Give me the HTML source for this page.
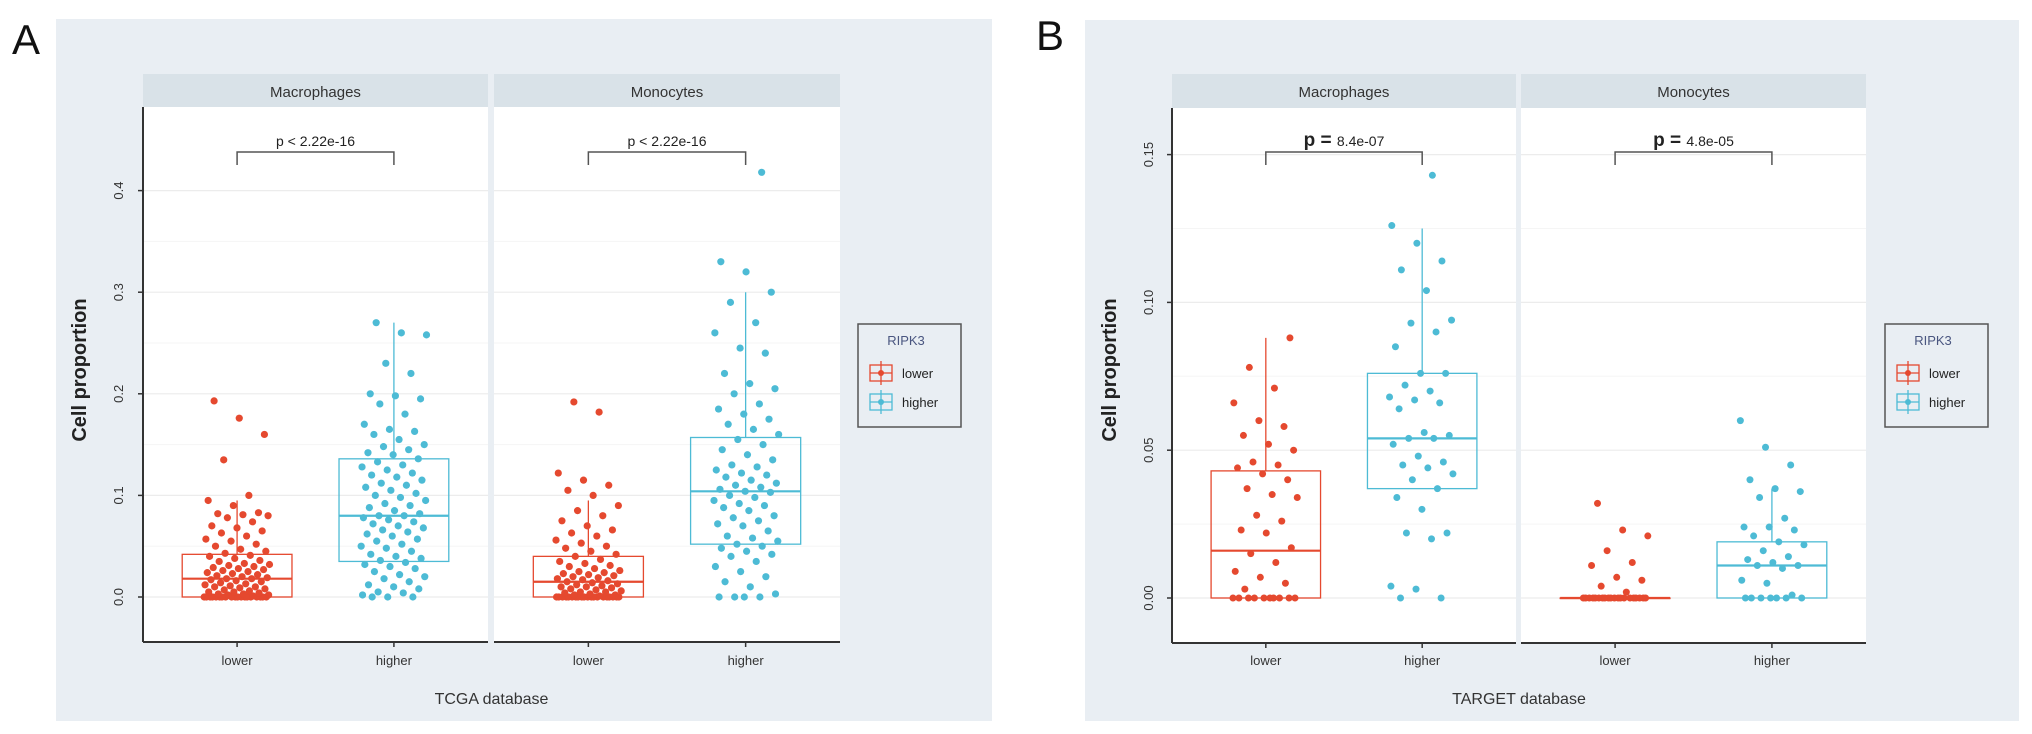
<!DOCTYPE html>
<html><head><meta charset="utf-8"><style>
html,body{margin:0;padding:0;background:#fff;}
svg{display:block;font-family:"Liberation Sans",Arial,sans-serif;}
</style></head><body>
<svg id="fig" width="2032" height="734" viewBox="0 0 2032 734">
<rect x="0" y="0" width="2032" height="734" fill="#fff"/>
<text x="12" y="54" font-size="42" fill="#111">A</text>
<text x="1036" y="50" font-size="42" fill="#111">B</text>
<rect x="56" y="19" width="936" height="702" fill="#e9eef3"/>
<rect x="1085" y="20" width="934" height="701" fill="#e9eef3"/>
<g id="layer"></g>
</svg>
<script>
// ---------- data ----------
const categories = ["lower", "higher"];
const facets = ["Macrophages", "Monocytes"];
const colors = ["#e5492f", "#4dbbd5"];

const ticksA = [0, 0.1, 0.2, 0.3, 0.4];
const tickLabelsA = ["0.0", "0.1", "0.2", "0.3", "0.4"];
const ticksB = [0, 0.05, 0.10, 0.15];
const tickLabelsB = ["0.00", "0.05", "0.10", "0.15"];

const pLabelsA = ["p < 2.22e-16", "p < 2.22e-16"];
const pLabelsB = ["8.4e-07", "4.8e-05"];

// box stats: [whiskerLow, q1, median, q3, whiskerHigh]
const boxA_mac_low = [0, 0, 0.018, 0.042, 0.095];
const boxA_mac_high = [0, 0.035, 0.080, 0.136, 0.270];
const boxA_mon_low = [0, 0, 0.015, 0.040, 0.095];
const boxA_mon_high = [0, 0.052, 0.104, 0.157, 0.300];
const boxB_mac_low = [0, 0, 0.016, 0.043, 0.088];
const boxB_mac_high = [0, 0.037, 0.054, 0.076, 0.125];
const boxB_mon_low = [0, 0, 0, 0, 0];
const boxB_mon_high = [0, 0, 0.011, 0.019, 0.037];

const ptsA_mac_low = [0,0,0,0,0,0,0,0,0,0,0,0,0,0,0,0,0,0,0,0.001,0.002,0.002,0.003,0.003,0.004,0.005,0.005,0.006,0.007,0.008,0.009,0.01,0.01,0.011,0.012,0.013,0.014,0.015,0.016,0.017,0.018,0.018,0.019,0.02,0.021,0.022,0.023,0.024,0.025,0.026,0.027,0.028,0.029,0.03,0.031,0.032,0.033,0.035,0.036,0.038,0.04,0.041,0.043,0.045,0.047,0.05,0.052,0.055,0.057,0.06,0.063,0.065,0.068,0.07,0.074,0.078,0.08,0.081,0.082,0.083,0.09,0.095,0.1,0.135,0.16,0.176,0.193];
const ptsA_mac_high = [0,0,0,0.002,0.004,0.005,0.008,0.01,0.012,0.015,0.018,0.02,0.022,0.025,0.028,0.03,0.032,0.034,0.036,0.038,0.04,0.042,0.045,0.048,0.05,0.052,0.055,0.057,0.06,0.062,0.064,0.066,0.068,0.07,0.072,0.074,0.076,0.078,0.08,0.08,0.082,0.085,0.088,0.09,0.092,0.095,0.098,0.1,0.102,0.105,0.108,0.11,0.112,0.115,0.118,0.12,0.122,0.125,0.128,0.13,0.133,0.136,0.14,0.142,0.145,0.148,0.15,0.155,0.16,0.163,0.165,0.17,0.18,0.19,0.195,0.198,0.2,0.22,0.23,0.258,0.26,0.27];
const ptsA_mon_low = [0,0,0,0,0,0,0,0,0,0,0,0,0,0,0,0,0,0,0,0,0.001,0.002,0.002,0.003,0.004,0.005,0.005,0.006,0.007,0.008,0.009,0.01,0.01,0.011,0.012,0.013,0.014,0.015,0.016,0.017,0.018,0.019,0.02,0.021,0.022,0.023,0.024,0.025,0.026,0.028,0.03,0.031,0.033,0.035,0.037,0.04,0.042,0.045,0.048,0.05,0.053,0.056,0.06,0.063,0.066,0.07,0.075,0.08,0.085,0.09,0.1,0.105,0.11,0.115,0.122,0.182,0.192];
const ptsA_mon_high = [0,0,0,0,0.003,0.01,0.015,0.02,0.025,0.03,0.035,0.04,0.042,0.045,0.048,0.05,0.052,0.055,0.058,0.06,0.065,0.07,0.072,0.075,0.078,0.08,0.085,0.088,0.09,0.092,0.095,0.098,0.1,0.103,0.104,0.106,0.108,0.11,0.112,0.115,0.118,0.12,0.122,0.125,0.128,0.13,0.135,0.14,0.145,0.15,0.155,0.16,0.165,0.17,0.175,0.18,0.185,0.19,0.2,0.205,0.21,0.22,0.24,0.245,0.26,0.27,0.29,0.3,0.32,0.33,0.418];
const ptsB_mac_low = [0,0,0,0,0,0,0,0,0,0,0.003,0.005,0.007,0.009,0.012,0.015,0.017,0.022,0.023,0.026,0.028,0.034,0.035,0.037,0.04,0.042,0.044,0.045,0.046,0.05,0.052,0.055,0.058,0.06,0.066,0.071,0.078,0.088];
const ptsB_mac_high = [0,0,0.003,0.004,0.02,0.022,0.022,0.03,0.034,0.037,0.04,0.042,0.044,0.045,0.046,0.048,0.052,0.054,0.054,0.055,0.056,0.064,0.066,0.067,0.068,0.07,0.072,0.076,0.076,0.085,0.09,0.093,0.094,0.104,0.111,0.114,0.12,0.126,0.143];
const ptsB_mon_low = [0,0,0,0,0,0,0,0,0,0,0,0,0,0,0,0,0,0,0,0,0.002,0.004,0.006,0.007,0.011,0.012,0.016,0.021,0.023,0.032];
const ptsB_mon_high = [0,0,0,0,0,0,0,0.001,0.005,0.006,0.01,0.011,0.011,0.012,0.013,0.014,0.016,0.018,0.019,0.021,0.023,0.024,0.024,0.027,0.034,0.036,0.037,0.04,0.045,0.051,0.06];

// ---------- drawing ----------
const NS = "http://www.w3.org/2000/svg";
const layer = document.getElementById("layer");
function mk(tag, attrs, parent) {
  const e = document.createElementNS(NS, tag);
  for (const k in attrs) e.setAttribute(k, attrs[k]);
  (parent || layer).appendChild(e);
  return e;
}

const charts = [
  { id: "a", y0: 597, perUnit: 1016, top: 107, bottom: 642, panels: [[143, 488], [494, 840]],
    ticks: ticksA, tickLabels: tickLabelsA, tickLabelX: 123, titleX: 86, xTitle: "TCGA database",
    boxes: [[boxA_mac_low, boxA_mac_high], [boxA_mon_low, boxA_mon_high]],
    pts: [[ptsA_mac_low, ptsA_mac_high], [ptsA_mon_low, ptsA_mon_high]],
    p: pLabelsA, bold: false, legendX: 858, r: 3.6 },
  { id: "b", y0: 598, perUnit: 2956, top: 108, bottom: 643, panels: [[1172, 1516], [1521, 1866]],
    ticks: ticksB, tickLabels: tickLabelsB, tickLabelX: 1153, titleX: 1116, xTitle: "TARGET database",
    boxes: [[boxB_mac_low, boxB_mac_high], [boxB_mon_low, boxB_mon_high]],
    pts: [[ptsB_mac_low, ptsB_mac_high], [ptsB_mon_low, ptsB_mon_high]],
    p: pLabelsB, bold: true, legendX: 1885, r: 3.5 }
];

charts.forEach(c => {
  const g = mk("g", {});
  
  
  const y = v => c.y0 - v * c.perUnit;
  c.panels.forEach((pn, fi) => {
    const [L, R] = pn;
    const unit = (R - L) / 2.2;
    const x = ci => L + (ci + 0.6) * unit;
    const st = mk("rect", { x: L, y: 74, width: R - L, height: 34, fill: "#d9e2e8" }, g);
    
    
    const stt = mk("text", { x: (L + R) / 2, y: 97, "text-anchor": "middle", "font-size": 15, fill: "#333" }, g);
    stt.textContent = facets[fi];
    
    
    const pb = mk("rect", { x: L, y: c.top, width: R - L, height: c.bottom - c.top, fill: "#fff" }, g);
    
    
    for (let i = 0; i < c.ticks.length; i++) {
      const gl = mk("line", { x1: L, x2: R, y1: y(c.ticks[i]), y2: y(c.ticks[i]), stroke: "#ececec", "stroke-width": 1.2 }, g);
      
      
      if (i > 0) {
        const mv = (c.ticks[i] + c.ticks[i - 1]) / 2;
        const ml = mk("line", { x1: L, x2: R, y1: y(mv), y2: y(mv), stroke: "#f5f5f5", "stroke-width": 1 }, g);
        
        
      }
    }
    const xa = mk("line", { x1: L, x2: R, y1: c.bottom, y2: c.bottom, stroke: "#333", "stroke-width": 2 }, g);
    
    
    categories.forEach((cat, ci) => {
      const tk = mk("line", { x1: x(ci), x2: x(ci), y1: c.bottom, y2: c.bottom + 5, stroke: "#333", "stroke-width": 1.5 }, g);
      
      
      const tl = mk("text", { x: x(ci), y: 665, "text-anchor": "middle", "font-size": 13, fill: "#333" }, g);
      tl.textContent = cat;
      
      
      const b = c.boxes[fi][ci];
      const col = colors[ci];
      const hw = 0.35 * unit;
      const wl = mk("line", { x1: x(ci), x2: x(ci), y1: y(b[3]), y2: y(b[4]), stroke: col, "stroke-width": 1.3 }, g);
      
      
      const bx = mk("rect", { x: x(ci) - hw, y: y(b[3]), width: 2 * hw, height: Math.max(0.5, y(b[1]) - y(b[3])), fill: "none", stroke: col, "stroke-width": 1.3 }, g);
      
      
      const md = mk("line", { x1: x(ci) - hw, x2: x(ci) + hw, y1: y(b[2]), y2: y(b[2]), stroke: col, "stroke-width": 2.2 }, g);
      
      
      c.pts[fi][ci].forEach((v, i) => {
        const off = (((i * 0.618034 + fi * 0.31 + ci * 0.17) % 1) - 0.5) * 0.42 * unit;
        const pt = mk("circle", { cx: x(ci) + off, cy: y(v), r: c.r, fill: col }, g);
        
        
      });
    });
    const br = mk("path", { d: `M${x(0)},165 V152 H${x(1)} V165`, fill: "none", stroke: "#555", "stroke-width": 1.5 }, g);
    
    
    const pt = mk("text", { x: (x(0) + x(1)) / 2, y: 146, "text-anchor": "middle", "font-size": 14, fill: "#222" }, g);
    if (c.bold) {
      const s1 = mk("tspan", { "font-size": 19, "font-weight": "bold" }, pt); s1.textContent = "p = ";
      const s2 = mk("tspan", {}, pt); s2.textContent = c.p[fi];
    } else pt.textContent = c.p[fi];
    
    
  });
  const L0 = c.panels[0][0];
  const ya = mk("line", { x1: L0, x2: L0, y1: c.top, y2: c.bottom, stroke: "#333", "stroke-width": 2 }, g);
  
  
  c.ticks.forEach((t, i) => {
    const tk = mk("line", { x1: L0 - 5, x2: L0, y1: y(t), y2: y(t), stroke: "#333", "stroke-width": 1.5 }, g);
    
    
    const tl = mk("text", { x: c.tickLabelX, y: y(t), "text-anchor": "middle", "font-size": 13, fill: "#333", transform: `rotate(-90 ${c.tickLabelX} ${y(t)})` }, g);
    tl.textContent = c.tickLabels[i];
    
    
  });
  const yt = mk("text", { x: c.titleX, y: 370, "text-anchor": "middle", "font-size": 20, "font-weight": "bold", fill: "#222", transform: `rotate(-90 ${c.titleX} 370)` }, g);
  yt.textContent = "Cell proportion";
  
  
  const xt = mk("text", { x: (c.panels[0][0] + c.panels[1][1]) / 2, y: 704, "text-anchor": "middle", "font-size": 16, fill: "#333" }, g);
  xt.textContent = c.xTitle;
  
  
  const lx = c.legendX;
  const lg = mk("g", {}, g);
  
  
  mk("rect", { x: lx, y: 324, width: 103, height: 103, fill: "#e9eef3", stroke: "#555", "stroke-width": 1.5 }, lg);
  const lt = mk("text", { x: lx + 48, y: 345, "text-anchor": "middle", "font-size": 13, fill: "#4a5680" }, lg);
  lt.textContent = "RIPK3";
  
  
  categories.forEach((cat, ci) => {
    const cy = 373 + ci * 29;
    const e = mk("g", {}, lg);
    
    
    mk("rect", { x: lx + 12, y: cy - 8, width: 22, height: 16, fill: "none", stroke: colors[ci], "stroke-width": 1.3 }, e);
    mk("line", { x1: lx + 12, x2: lx + 34, y1: cy, y2: cy, stroke: colors[ci], "stroke-width": 1.3 }, e);
    mk("line", { x1: lx + 23, x2: lx + 23, y1: cy - 12, y2: cy + 12, stroke: colors[ci], "stroke-width": 1.3 }, e);
    mk("circle", { cx: lx + 23, cy: cy, r: 3, fill: colors[ci] }, e);
    const t = mk("text", { x: lx + 44, y: cy + 5, "font-size": 13, fill: "#222" }, e);
    t.textContent = cat;
  });
});
</script>
</body></html>
